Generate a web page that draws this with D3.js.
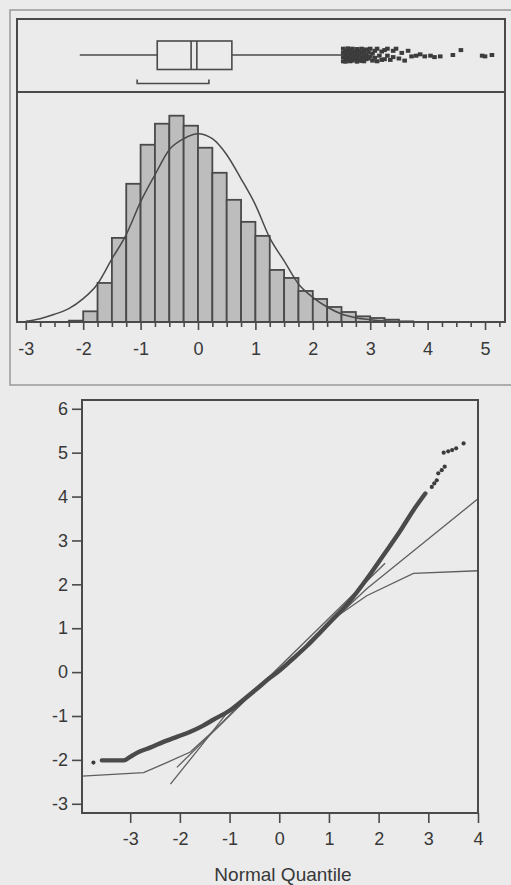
<!DOCTYPE html>
<html>
<head>
<meta charset="utf-8">
<script src="https://d3js.org/d3.v7.min.js"></script>
<style>
    html, body { margin: 0; padding: 0; background: #ebebeb; }
    svg { display: block; font-family: "Liberation Sans", Arial, sans-serif; }
    .axis text { font-size: 18px; fill: #383838; }
    .axis line { stroke: #4a4a4a; stroke-width: 1.6; }
</style>
</head>
<body>
<svg id="chart" width="511" height="885"></svg>
<script>
// histogram bins (left edge of each 0.25 wide bin) and counts
const binStarts = [-2.25, -2, -1.75, -1.5, -1.25, -1, -0.75, -0.5, -0.25, 0, 0.25, 0.5,
    0.75, 1, 1.25, 1.5, 1.75, 2, 2.25, 2.5, 2.75, 3, 3.25, 3.5];
const binCounts = [4, 32, 117, 252, 414, 531, 594, 618, 588, 522, 447, 366,
    300, 258, 156, 132, 93, 69, 45, 30, 17, 12, 7, 2];
const binWidth = 0.25;

// fitted normal curve
const curveX = [-3, -2.75, -2.5, -2.25, -2, -1.75, -1.5, -1.25, -1, -0.75, -0.5, -0.25, 0,
    0.25, 0.5, 0.75, 1, 1.25, 1.5, 1.75, 2, 2.25, 2.5, 2.75, 3, 3.25, 3.5];
const curveY = [2, 10, 23, 40, 70, 114, 189, 262, 360, 441, 516, 549, 564,
    549, 501, 429, 351, 252, 183, 114, 74, 45, 24, 13, 7, 3, 1];

// outlier box plot
const whiskerLo = -2.06, q1 = -0.71, median = -0.12, mean = -0.02, q3 = 0.59, whiskerHi = 2.51;
const shortestHalf = [-1.06, 0.19];
const outlierVals = [
    2.53, 2.53, 2.53, 2.53, 2.57, 2.57, 2.57, 2.57, 2.61, 2.61, 2.61, 2.61,
    2.65, 2.65, 2.65, 2.65, 2.69, 2.69, 2.69, 2.69, 2.73, 2.73, 2.73,
    2.77, 2.77, 2.77, 2.77, 2.81, 2.81, 2.81, 2.85, 2.85, 2.85, 2.85,
    2.89, 2.89, 2.89, 2.93, 2.93, 2.93,
    2.97, 2.97, 3.0, 3.0, 3.04, 3.04, 3.08, 3.08, 3.12, 3.12, 3.16, 3.2, 3.2,
    3.25, 3.25, 3.3, 3.3, 3.35, 3.4, 3.4, 3.45, 3.5, 3.55, 3.6, 3.66, 3.72,
    3.8, 3.87, 3.95, 4.05, 4.12, 4.22,
    4.44, 4.58, 4.95, 5.0, 5.12];
const outlierJitter = [
    -0.9, -0.3, 0.3, 0.9, -0.6, 0, 0.6, 0.95, -0.95, -0.4, 0.2, 0.7,
    -0.7, -0.1, 0.5, 0.9, -0.9, -0.35, 0.25, 0.8, -0.5, 0.1, 0.6,
    -0.85, -0.2, 0.4, 0.95, -0.6, 0.05, 0.7, -0.9, -0.3, 0.35, 0.85,
    -0.5, 0.2, 0.9, -0.8, 0, 0.6,
    -0.4, 0.5, -0.9, 0.2, 0.8, -0.2, -0.6, 0.4, 0.9, -0.9, 0.1, -0.5, 0.7,
    -0.7, 0.6, 0.1, -0.9, 0.7, -0.6, 0.3, -0.9, 0.5, -0.3, 0.8, -0.6, 0.2,
    0.1, -0.1, 0.2, 0.1, 0.3, 0.2,
    0, -0.7, 0.1, 0.2, 0];

// normal quantile plot
const qqQ = [-3.57, -3.35, -3.13, -3.0, -2.83, -2.6, -2.33, -2.05, -1.79, -1.55, -1.32, -0.99, -0.72,
    -0.45, -0.2, 0, 0.28, 0.56, 0.82, 1.09, 1.43, 1.76, 2.1, 2.43, 2.7, 2.94];
const qqV = [-2.01, -2.01, -2.01, -1.93, -1.82, -1.72, -1.59, -1.47, -1.36, -1.23, -1.08, -0.87, -0.63,
    -0.38, -0.14, 0.03, 0.31, 0.6, 0.9, 1.22, 1.63, 2.12, 2.67, 3.21, 3.69, 4.07];
const qqTailQ = [-3.74, 3.07, 3.12, 3.17, 3.2, 3.27, 3.33, 3.31, 3.4, 3.48, 3.56, 3.71];
const qqTailV = [-2.06, 4.22, 4.3, 4.37, 4.53, 4.6, 4.68, 5.0, 5.03, 5.06, 5.1, 5.21];
const refLineQ = [-2.06, 2.13];
const refLineV = [-2.17, 2.48];
const upperBandQ = [-2.19, -1.6, -1.05, -0.5, 0, 0.6, 1.2, 1.76, 4.0];
const upperBandV = [-2.55, -1.72, -0.93, -0.42, 0.03, 0.64, 1.3, 1.9, 3.95];
const lowerBandQ = [-3.97, -2.73, -2.3, -1.79, -1.19, -0.95, -0.5, 0, 0.6, 1.2, 1.76, 2.7, 4.0];
const lowerBandV = [-2.37, -2.29, -2.08, -1.82, -1.2, -0.92, -0.42, 0.02, 0.63, 1.3, 1.74, 2.25, 2.31];

const histTicks = [-3, -2, -1, 0, 1, 2, 3, 4, 5];
const qqXTicks = [-3, -2, -1, 0, 1, 2, 3, 4];
const qqYTicks = [-3, -2, -1, 0, 1, 2, 3, 4, 5, 6];
const xLabel = "Normal Quantile";

const ink = '#4a4a4a';
const svg = d3.select('#chart');

// ---------- top panel: box plot + histogram ----------
const panel = { left: 17, right: 505, top: 19, split: 92, bottom: 322 };

const xH = d3.scaleLinear().domain([-3.153, 5.348]).range([panel.left, panel.right]);
const yH = d3.scaleLinear().domain([0, 686]).range([panel.bottom, panel.split + 1]);

// outer page frame
svg.append('rect')
    .attr('x', 10).attr('y', 10)
    .attr('width', 520).attr('height', 375)
    .attr('fill', 'none')
    .attr('stroke', '#999')
    .attr('stroke-width', 1.5);

// bars
svg.selectAll('.bar')
    .data(binStarts.map((s, i) => ({ s, c: binCounts[i] })))
    .enter()
    .append('rect')
    .attr('class', 'bar')
    .attr('x', d => xH(d.s))
    .attr('y', d => yH(d.c))
    .attr('width', d => xH(d.s + binWidth) - xH(d.s))
    .attr('height', d => yH(0) - yH(d.c))
    .attr('fill', '#bdbdbd')
    .attr('stroke', ink)
    .attr('stroke-width', 1.8);

// normal density curve
svg.append('path')
    .datum(curveX.map((x, i) => [x, curveY[i]]))
    .attr('fill', 'none')
    .attr('stroke', ink)
    .attr('stroke-width', 1.5)
    .attr('d', d3.line().x(d => xH(d[0])).y(d => yH(d[1])).curve(d3.curveMonotoneX));

// box plot
const boxMid = 55;
const bp = svg.append('g').attr('stroke', ink).attr('fill', 'none').attr('stroke-width', 1.6);
bp.append('line').attr('x1', xH(whiskerLo)).attr('x2', xH(q1)).attr('y1', boxMid).attr('y2', boxMid);
bp.append('line').attr('x1', xH(q3)).attr('x2', xH(whiskerHi)).attr('y1', boxMid).attr('y2', boxMid);
bp.append('rect')
    .attr('x', xH(q1)).attr('y', 41)
    .attr('width', xH(q3) - xH(q1)).attr('height', 28.5);
[median, mean].forEach(v => {
    bp.append('line').attr('x1', xH(v)).attr('x2', xH(v)).attr('y1', 41).attr('y2', 69.5);
});
// shortest half bracket
bp.append('path')
    .attr('d', `M${xH(shortestHalf[0])},79.5 V83.5 H${xH(shortestHalf[1])} V79.5`);

// outliers
svg.selectAll('.outlier')
    .data(outlierVals.map((v, i) => ({ v, j: outlierJitter[i] })))
    .enter()
    .append('rect')
    .attr('class', 'outlier')
    .attr('x', d => xH(d.v) - 2.3)
    .attr('y', d => boxMid + d.j * 7 - 2)
    .attr('width', 4.6)
    .attr('height', 4)
    .attr('fill', '#3c3c3c');

// panel frame and divider
svg.append('rect')
    .attr('x', panel.left).attr('y', panel.top)
    .attr('width', panel.right - panel.left).attr('height', panel.bottom - panel.top)
    .attr('fill', 'none').attr('stroke', ink).attr('stroke-width', 2);
svg.append('line')
    .attr('x1', panel.left).attr('x2', panel.right)
    .attr('y1', panel.split).attr('y2', panel.split)
    .attr('stroke', ink).attr('stroke-width', 2);

// histogram axis: minor then major ticks
const minorTicks = d3.range(-12, 22).map(k => k * 0.25).filter(v => !histTicks.includes(v));
svg.append('g')
    .attr('class', 'axis')
    .attr('transform', `translate(0, ${panel.bottom})`)
    .call(d3.axisBottom(xH).tickValues(minorTicks).tickSize(5).tickFormat(''))
    .call(g => g.select('.domain').remove());
svg.append('g')
    .attr('class', 'axis')
    .attr('transform', `translate(0, ${panel.bottom})`)
    .call(d3.axisBottom(xH).tickValues(histTicks).tickSize(8).tickPadding(12).tickFormat(d => String(d)))
    .call(g => g.select('.domain').remove());

// ---------- bottom panel: normal quantile plot ----------
const qq = { left: 82, right: 478, top: 400, bottom: 813 };
const xQ = d3.scaleLinear().domain([-3.97, 4.0]).range([qq.left, qq.right]);
const yQ = d3.scaleLinear().domain([-3.21, 6.2]).range([qq.bottom, qq.top]);

const qqLine = d3.line().x(d => xQ(d[0])).y(d => yQ(d[1]));
const pairs = (a, b) => a.map((v, i) => [v, b[i]]);

// confidence bands and reference line
[[upperBandQ, upperBandV], [lowerBandQ, lowerBandV], [refLineQ, refLineV]].forEach(([q, v]) => {
    svg.append('path')
        .datum(pairs(q, v))
        .attr('fill', 'none')
        .attr('stroke', '#5e5e5e')
        .attr('stroke-width', 1.3)
        .attr('d', qqLine);
});

// data points (dense run drawn as a thick trace)
svg.append('path')
    .datum(pairs(qqQ, qqV))
    .attr('fill', 'none')
    .attr('stroke', ink)
    .attr('stroke-width', 4.4)
    .attr('stroke-linecap', 'round')
    .attr('stroke-linejoin', 'round')
    .attr('d', qqLine.curve(d3.curveMonotoneX));

svg.selectAll('.tail')
    .data(pairs(qqTailQ, qqTailV))
    .enter()
    .append('circle')
    .attr('class', 'tail')
    .attr('cx', d => xQ(d[0]))
    .attr('cy', d => yQ(d[1]))
    .attr('r', 2.1)
    .attr('fill', '#3c3c3c');

// frame
svg.append('rect')
    .attr('x', qq.left).attr('y', qq.top)
    .attr('width', qq.right - qq.left).attr('height', qq.bottom - qq.top)
    .attr('fill', 'none').attr('stroke', ink).attr('stroke-width', 2);

svg.append('g')
    .attr('class', 'axis')
    .attr('transform', `translate(0, ${qq.bottom})`)
    .call(d3.axisBottom(xQ).tickValues(qqXTicks).tickSize(10).tickPadding(9).tickFormat(d => String(d)))
    .call(g => g.select('.domain').remove());

svg.append('g')
    .attr('class', 'axis')
    .attr('transform', `translate(${qq.left}, 0)`)
    .call(d3.axisLeft(yQ).tickValues(qqYTicks).tickSize(10).tickPadding(4).tickFormat(d => String(d)))
    .call(g => g.select('.domain').remove());

svg.append('text')
    .attr('x', 283)
    .attr('y', 881)
    .attr('text-anchor', 'middle')
    .attr('font-size', 19)
    .attr('fill', '#383838')
    .text(xLabel);
</script>
</body>
</html>
